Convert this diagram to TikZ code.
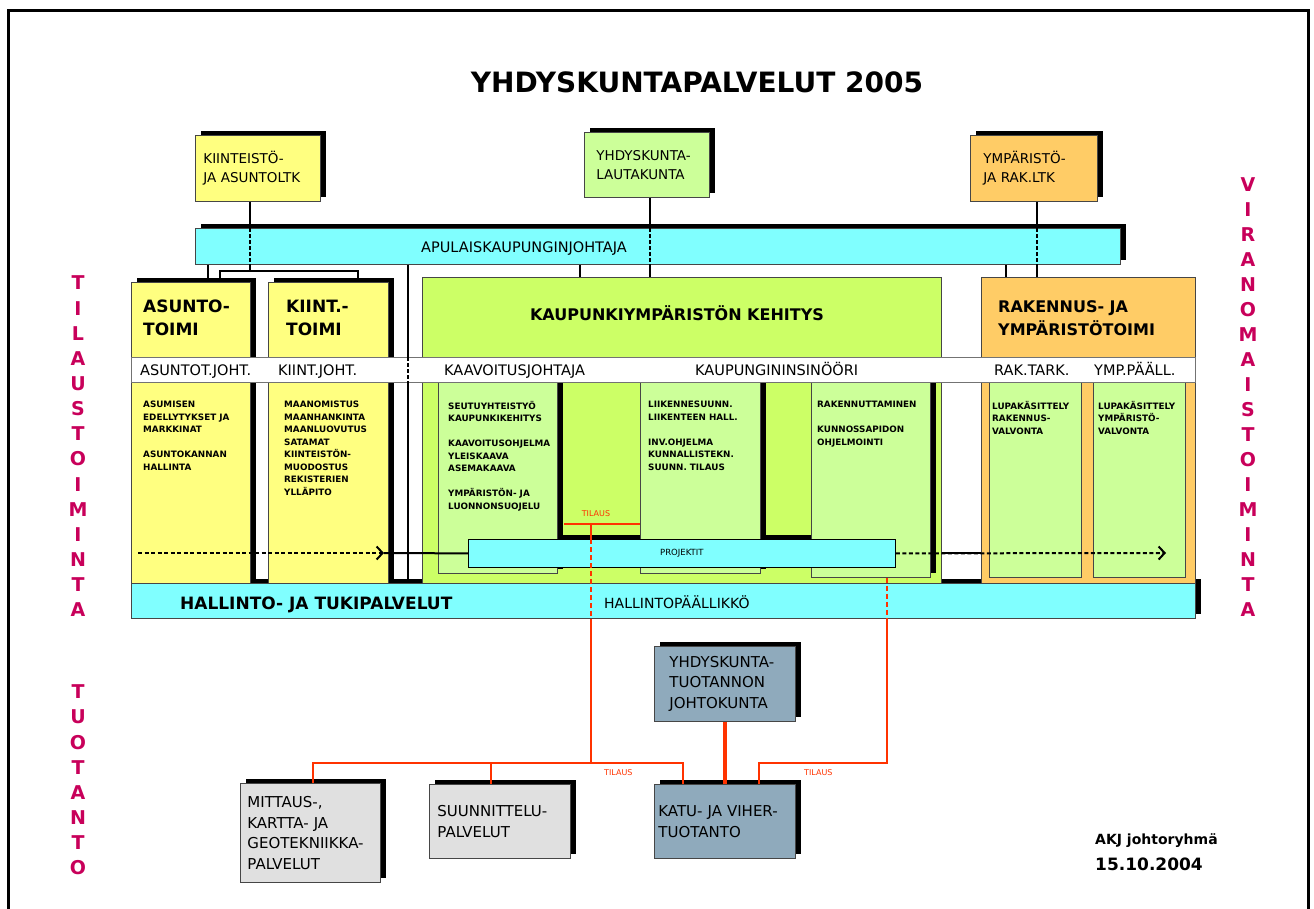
\documentclass[tikz,border=0pt]{standalone}
\usepackage{fontspec}
\setmainfont{DejaVu Sans}
\usetikzlibrary{shadows,arrows.meta}

\definecolor{boxyellow}{RGB}{255,255,128}
\definecolor{boxgreen}{RGB}{204,255,102}
\definecolor{colgreen}{RGB}{204,255,153}
\definecolor{boxorange}{RGB}{255,204,102}
\definecolor{barcyan}{RGB}{128,255,255}
\definecolor{boxsteel}{RGB}{143,170,188}
\definecolor{boxgrey}{RGB}{224,224,224}
\definecolor{tilred}{RGB}{255,51,0}
\definecolor{sidepink}{RGB}{200,0,90}
\definecolor{edgegrey}{RGB}{70,70,70}

\begin{document}
\begin{tikzpicture}[x=1pt, y=-1pt,
		box/.style={draw=edgegrey, line width=0.8pt, inner sep=0pt, anchor=north west},
		blackshadow/.style={drop shadow={shadow xshift=6pt, shadow yshift=4pt, opacity=1, fill=black}},
		conn/.style={draw=black, line width=2.5pt},
		inbar/.style={dash pattern=on 4pt off 2pt},
		redline/.style={draw=tilred, line width=2.5pt},
		redthick/.style={draw=tilred, line width=4pt},
		dasharrow/.style={draw=black, line width=2pt, dash pattern=on 4pt off 2.5pt, -{Straight Barb[length=6pt, width=13pt]}},
		titletxt/.style={font=\bfseries\fontsize{28}{32}\selectfont},
		boardtxt/.style={font=\fontsize{13.5}{19}\selectfont, align=left},
		headtxt/.style={font=\bfseries\fontsize{17}{23}\selectfont, align=left, inner sep=0pt, anchor=north west, execute at begin node=\strut},
		roletxt/.style={font=\fontsize{14.5}{17}\selectfont, inner sep=0pt, anchor=base west},
		dutytxt/.style={font=\bfseries\fontsize{8.8}{12.5}\selectfont, align=left, inner sep=0pt, anchor=north west, execute at begin node=\strut},
		unittxt/.style={font=\fontsize{15}{20.5}\selectfont, align=left},
		sidetxt/.style={font=\bfseries\fontsize{19}{20}\selectfont, text=sidepink, inner sep=0pt},
		redtxt/.style={font=\fontsize{8}{9}\selectfont, text=tilred, inner sep=0pt},
		signtxt/.style={font=\bfseries\fontsize{14}{18}\selectfont, inner sep=0pt, anchor=base west}
	]
	\useasboundingbox (0,0) rectangle (1314,908);
	\draw[line width=3pt] (8,915) -- (8,10) -- (1308,10) -- (1308,915);
	
	\node[titletxt] (title) at (697,82) {YHDYSKUNTAPALVELUT 2005};
	
	\node[box, blackshadow, fill=boxyellow, minimum width=125, minimum height=66, boardtxt, text width=109] (kiintltk) at (195,135) {KIINTEISTÖ-\\JA ASUNTOLTK};
	\node[box, blackshadow, fill=colgreen, minimum width=125, minimum height=65, boardtxt, text width=101] (yhdltk) at (584,132) {YHDYSKUNTA-\\LAUTAKUNTA};
	\node[box, blackshadow, fill=boxorange, minimum width=127, minimum height=66, boardtxt, text width=101] (ympltk) at (970,135) {YMPÄRISTÖ-\\JA RAK.LTK};
	
	\node[box, blackshadow, fill=barcyan, minimum width=925, minimum height=36] (apul) at (195,228) {};
	\node[roletxt] (apultxt) at (421,252.5) {APULAISKAUPUNGINJOHTAJA};
	
	\node[box, blackshadow, fill=barcyan, minimum width=1064, minimum height=35] (hallinto) at (131,583) {};
	\node[signtxt, font=\bfseries\fontsize{17}{20}\selectfont] (hallintotxt) at (180,609) {HALLINTO- JA TUKIPALVELUT};
	\node[roletxt, font=\fontsize{14}{17}\selectfont] (hallpaal) at (604,608) {HALLINTOPÄÄLLIKKÖ};
	
	\node[box, blackshadow, fill=boxyellow, minimum width=119, minimum height=301] (asunto) at (131,282) {};
	\node[box, blackshadow, fill=boxyellow, minimum width=120, minimum height=301] (kiint) at (268,282) {};
	\node[box, fill=boxgreen, minimum width=519, minimum height=306] (kaup) at (422,277) {};
	\node[box, fill=boxorange, minimum width=214, minimum height=306] (rak) at (981,277) {};
	
	\node[headtxt] (asuntottl) at (143,300) {ASUNTO-\\TOIMI};
	\node[headtxt] (kiintttl) at (286,300) {KIINT.-\\TOIMI};
	\node[font=\bfseries\fontsize{16}{20}\selectfont] (kaupttl) at (677,313) {KAUPUNKIYMPÄRISTÖN KEHITYS};
	\node[headtxt, font=\bfseries\fontsize{16}{23}\selectfont] (rakttl) at (998,300) {RAKENNUS- JA\\YMPÄRISTÖTOIMI};
	
	\fill[black] (474,535) rectangle (901,563);
	
	\node[box, blackshadow, fill=colgreen, minimum width=119, minimum height=191] (kaavoitus) at (438,382) {};
	\node[box, blackshadow, fill=colgreen, minimum width=120, minimum height=191] (liikenne) at (640,382) {};
	\node[box, blackshadow, fill=colgreen, minimum width=119, minimum height=195] (rakennutus) at (811,382) {};
	\node[box, fill=colgreen, minimum width=92, minimum height=195] (luparak) at (989,382) {};
	\node[box, fill=colgreen, minimum width=92, minimum height=195] (lupaymp) at (1093,382) {};
	
	\node[box, fill=white, draw=black!55, minimum width=1064, minimum height=25] (band) at (131,357) {};
	\node[roletxt] (asjoht) at (140,375.5) {ASUNTOT.JOHT.};
	\node[roletxt] (kijoht) at (278,375.5) {KIINT.JOHT.};
	\node[roletxt] (kaavjoht) at (444,375.5) {KAAVOITUSJOHTAJA};
	\node[roletxt] (kaupins) at (695,375.5) {KAUPUNGININSINÖÖRI};
	\node[roletxt] (raktark) at (994,375.5) {RAK.TARK.};
	\node[roletxt] (ymppaal) at (1094,375.5) {YMP.PÄÄLL.};
	
	\node[dutytxt] (asuntodut) at (143,401) {ASUMISEN\\EDELLYTYKSET JA\\MARKKINAT\\[12.5pt]ASUNTOKANNAN\\HALLINTA};
	\node[dutytxt] (kiintdut) at (284,401) {MAANOMISTUS\\MAANHANKINTA\\MAANLUOVUTUS\\SATAMAT\\KIINTEISTÖN-\\MUODOSTUS\\REKISTERIEN\\YLLÄPITO};
	\node[dutytxt] (kaavdut) at (448,401) {SEUTUYHTEISTYÖ\\KAUPUNKIKEHITYS\\[12.5pt]KAAVOITUSOHJELMA\\YLEISKAAVA\\ASEMAKAAVA\\[12.5pt]YMPÄRISTÖN- JA\\LUONNONSUOJELU};
	\node[dutytxt] (liikdut) at (648,401) {LIIKENNESUUNN.\\LIIKENTEEN HALL.\\[12.5pt]INV.OHJELMA\\KUNNALLISTEKN.\\SUUNN. TILAUS};
	\node[dutytxt] (rakdut) at (817,401) {RAKENNUTTAMINEN\\[12.5pt]KUNNOSSAPIDON\\OHJELMOINTI};
	\node[dutytxt] (luparakdut) at (992,401) {LUPAKÄSITTELY\\RAKENNUS-\\VALVONTA};
	\node[dutytxt] (lupaympdut) at (1098,401) {LUPAKÄSITTELY\\YMPÄRISTÖ-\\VALVONTA};
	
	\node[box, fill=barcyan, draw=black, minimum width=427, minimum height=28, font=\fontsize{8.5}{10}\selectfont] (projektit) at (468,539) {PROJEKTIT};
	
	\coordinate (gAs) at (208,0);
	\coordinate (gKi) at (250,0);
	\coordinate (gMid) at (408,0);
	\coordinate (gKa) at (580,0);
	\coordinate (gYh) at (650,0);
	\coordinate (gRa) at (1006,0);
	\coordinate (gYm) at (1037,0);
	\coordinate (brL) at (220,271);
	\coordinate (brM) at (250,271);
	\coordinate (brR) at (358,271);
	
	\draw[conn] (kiintltk.south -| gKi) -- (apul.north -| gKi);
	\draw[conn, inbar] (apul.north -| gKi) -- (apul.south -| gKi);
	\draw[conn] (apul.south -| gKi) -- (brM);
	\draw[conn] (asunto.north -| brL) -- (brL) -- (brR) -- (kiint.north -| brR);
	\draw[conn] (apul.south -| gAs) -- (asunto.north -| gAs);
	\draw[conn] (apul.south -| gMid) -- (band.north -| gMid);
	\draw[conn, inbar] (band.north -| gMid) -- (band.south -| gMid);
	\draw[conn] (band.south -| gMid) -- (hallinto.north -| gMid);
	\draw[conn] (apul.south -| gKa) -- (kaup.north -| gKa);
	\draw[conn] (yhdltk.south -| gYh) -- (apul.north -| gYh);
	\draw[conn, inbar] (apul.north -| gYh) -- (apul.south -| gYh);
	\draw[conn] (apul.south -| gYh) -- (kaup.north -| gYh);
	\draw[conn] (apul.south -| gRa) -- (rak.north -| gRa);
	\draw[conn] (ympltk.south -| gYm) -- (apul.north -| gYm);
	\draw[conn, inbar] (apul.north -| gYm) -- (apul.south -| gYm);
	\draw[conn] (apul.south -| gYm) -- (rak.north -| gYm);
	
	\coordinate (dashL) at (138,553);
	\coordinate (dashLend) at (384,553);
	\coordinate (dashRend) at (1166,553);
	\draw[dasharrow] (dashL) -- (dashLend);
	\draw[conn, line width=2pt] (dashLend) -- (projektit.west);
	\draw[conn, line width=2pt] (kaup.east |- projektit.east) -- (rak.west |- projektit.east);
	\draw[dasharrow] (projektit.east) -- (dashRend);
	
	\node[box, blackshadow, fill=boxsteel, minimum width=141, minimum height=75, unittxt, text width=111] (ytjohto) at (654,646) {YHDYSKUNTA-\\TUOTANNON\\JOHTOKUNTA};
	\node[box, blackshadow, fill=boxgrey, minimum width=140, minimum height=99, unittxt, text width=126] (mittaus) at (240,783) {MITTAUS-,\\KARTTA- JA\\GEOTEKNIIKKA-\\PALVELUT};
	\node[box, blackshadow, fill=boxgrey, minimum width=141, minimum height=74, unittxt, text width=125] (suunnittelu) at (429,784) {SUUNNITTELU-\\PALVELUT};
	\node[box, blackshadow, fill=boxsteel, minimum width=141, minimum height=74, unittxt, text width=133] (katu) at (654,784) {KATU- JA VIHER-\\TUOTANTO};
	
	\coordinate (tilL) at (564,524);
	\coordinate (tilR) at (640,524);
	\coordinate (tilM) at (591,524);
	\coordinate (jM) at (591,763);
	\coordinate (jMit) at (313,763);
	\coordinate (jSuu) at (491,763);
	\coordinate (jKat) at (683,763);
	\coordinate (jD) at (887,763);
	\coordinate (jK) at (759,763);
	
	\draw[redline] (tilL) -- (tilR);
	\node[redtxt] (tilausmid) at (596,514) {TILAUS};
	\draw[redline] (tilM) -- (tilM |- projektit.north);
	\draw[redline, dash pattern=on 5pt off 3pt] (tilM |- projektit.north) -- (tilM |- hallinto.south);
	\draw[redline] (tilM |- hallinto.south) -- (jM);
	\draw[redline] (mittaus.north -| jMit) -- (jMit) -- (jKat) -- (katu.north -| jKat);
	\draw[redline] (jSuu) -- (suunnittelu.north -| jSuu);
	\draw[redline, dash pattern=on 5pt off 3pt] (rakennutus.south -| jD) -- (hallinto.south -| jD);
	\draw[redline] (hallinto.south -| jD) -- (jD) -- (jK) -- (katu.north -| jK);
	\draw[redthick] (ytjohto.south) -- (katu.north -| ytjohto.south);
	\node[redtxt, anchor=west] (tilausleft) at (604,773) {TILAUS};
	\node[redtxt, anchor=west] (tilausright) at (804,773) {TILAUS};
	
	\foreach \ch [count=\i] in {T,I,L,A,U,S,T,O,I,M,I,N,T,A}
		\node[sidetxt] (ltil\i) at (78,{283+25.15*(\i-1)}) {\ch};
	\foreach \ch [count=\i] in {T,U,O,T,A,N,T,O}
		\node[sidetxt] (ltuo\i) at (78,{692+25.15*(\i-1)}) {\ch};
	\foreach \ch [count=\i] in {V,I,R,A,N,O,M,A,I,S,T,O,I,M,I,N,T,A}
		\node[sidetxt] (rvir\i) at (1248,{185+25*(\i-1)}) {\ch};
	
	\node[signtxt] (akj) at (1095,844) {AKJ johtoryhmä};
	\node[signtxt, font=\bfseries\fontsize{17}{20}\selectfont] (pvm) at (1095,870) {15.10.2004};
\end{tikzpicture}
\end{document}
